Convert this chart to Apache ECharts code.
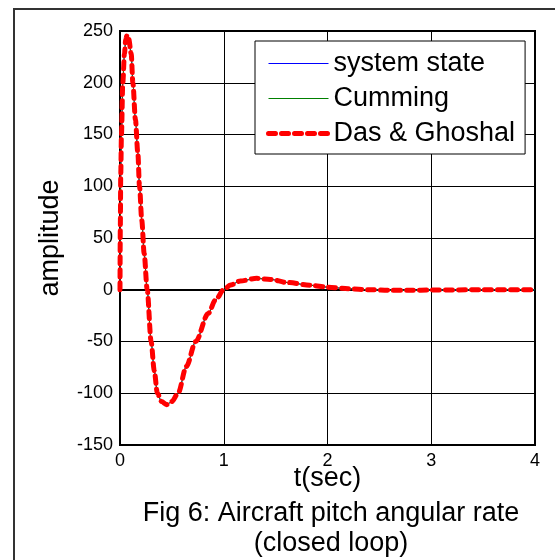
<!DOCTYPE html>
<html>
<head>
<meta charset="utf-8">
<script src="https://cdn.jsdelivr.net/npm/echarts@6/dist/echarts.min.js"></script>
<style>
  html, body { margin: 0; padding: 0; background: #fff; }
  #chart { width: 555px; height: 560px; }
</style>
</head>
<body>
<div id="chart"></div>
<script>
// 时间 (s) 和 幅值, 从图上读出来的
const timeSec = [0, 0.003, 0.007, 0.014, 0.027, 0.043, 0.055, 0.069, 0.085, 0.108,
  0.124, 0.149, 0.172, 0.188, 0.21, 0.233, 0.262, 0.30, 0.33, 0.36,
  0.40, 0.45, 0.50, 0.56, 0.64, 0.73, 0.85, 0.92, 1.0, 1.065,
  1.16, 1.32, 1.45, 1.61, 1.84, 2.0, 2.2, 2.4, 2.6, 2.8,
  3.0, 3.5, 4.0]
const amplitude = [0, 60, 110, 150, 200, 228, 242, 246, 242, 228,
  200, 164, 132, 100, 67, 35, 0, -50, -78, -100,
  -108, -111, -108, -100, -74, -50, -23, -10, 0, 4.6,
  8.5, 11, 10, 7, 4.3, 2.5, 1, 0, -0.5, -0.5,
  -0.3, 0, 0]
const seriesNames = ['system state', 'Cumming', 'Das & Ghoshal']
const xTicks = [0, 4, 1]      // min, max, interval
const yTicks = [-150, 250, 50]
const captionLines = ['Fig 6: Aircraft pitch angular rate', '(closed loop)']

const font = 'Liberation Sans, Arial, sans-serif'
const points = timeSec.map((t, i) => [t, amplitude[i]])

let chart = echarts.init(document.getElementById('chart'))
let option = {
  backgroundColor: '#fff',
  animation: false,
  grid: {
    left: 120, top: 31, right: 20, bottom: 115,
    show: true, borderColor: '#000', borderWidth: 2
  },
  legend: {
    orient: 'vertical',
    left: 255, top: 41,
    padding: [9, 10, 7, 11],
    itemWidth: 60, itemHeight: 14, itemGap: 8,
    backgroundColor: '#fff',
    borderColor: '#000', borderWidth: 1,
    itemStyle: { opacity: 0 },
    lineStyle: { width: 'inherit' },
    textStyle: { fontSize: 27, lineHeight: 27, color: '#000', fontFamily: font },
    data: seriesNames
  },
  xAxis: {
    type: 'value',
    min: xTicks[0], max: xTicks[1], interval: xTicks[2],
    name: 't(sec)', nameLocation: 'middle', nameGap: 20, nameMoveOverlap: false,
    nameTextStyle: { fontSize: 27, color: '#000', fontFamily: font },
    axisLine: { lineStyle: { color: '#000', width: 2 } },
    axisTick: { show: false },
    axisLabel: { fontSize: 18, color: '#000', fontFamily: font, margin: 7 },
    splitLine: { lineStyle: { color: '#000', width: 1 } }
  },
  yAxis: {
    type: 'value',
    min: yTicks[0], max: yTicks[1], interval: yTicks[2],
    name: 'amplitude', nameLocation: 'middle', nameGap: 56, nameMoveOverlap: false,
    nameTextStyle: { fontSize: 27, color: '#000', fontFamily: font },
    axisLine: { lineStyle: { color: '#000', width: 2 } },
    axisTick: { show: false },
    axisLabel: { fontSize: 18, color: '#000', fontFamily: font, margin: 7 },
    splitLine: { lineStyle: { color: '#000', width: 1 } }
  },
  series: [{
    name: seriesNames[0], type: 'line', data: points,
    showSymbol: false, symbol: 'none', smooth: 0.3, smoothMonotone: 'x',
    itemStyle: { color: '#0000ff' },
    lineStyle: { color: '#0000ff', width: 1 }
  }, {
    name: seriesNames[1], type: 'line', data: points,
    showSymbol: false, symbol: 'none', smooth: 0.3, smoothMonotone: 'x',
    itemStyle: { color: '#008000' },
    lineStyle: { color: '#008000', width: 1 }
  }, {
    name: seriesNames[2], type: 'line', data: points,
    showSymbol: false, symbol: 'none', smooth: 0.3, smoothMonotone: 'x',
    itemStyle: { color: '#ff0000' },
    lineStyle: { color: '#ff0000', width: 5, type: [7, 6], cap: 'round' }
  }],
  graphic: [{
    type: 'polyline',
    shape: { points: [[14, 560], [14, 9], [555, 9]] },
    style: { stroke: '#333', lineWidth: 2, fill: null }
  }, {
    type: 'text', x: 331, y: 514,
    style: { text: captionLines[0], fill: '#000', font: '27px ' + font, align: 'center', verticalAlign: 'middle' }
  }, {
    type: 'text', x: 331, y: 544,
    style: { text: captionLines[1], fill: '#000', font: '27px ' + font, align: 'center', verticalAlign: 'middle' }
  }]
}
chart.setOption(option)
</script>
</body>
</html>
